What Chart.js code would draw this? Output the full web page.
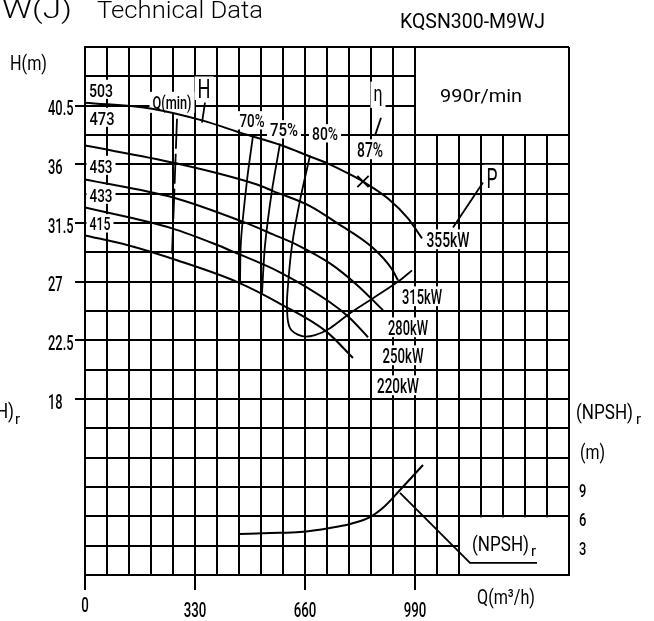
<!DOCTYPE html>
<html><head><meta charset="utf-8">
<script src="https://cdn.jsdelivr.net/npm/chart.js@4.4.1/dist/chart.umd.min.js"></script>
<style>html,body{margin:0;padding:0;background:#fff}#wrap{width:654px;height:621px;position:relative}</style>
</head><body><div id="wrap"><canvas id="c"></canvas></div>
<script>
const FAM = "Roboto,'Liberation Sans','DejaVu Sans',sans-serif";

// axis tick labels
const flowTicks = [0, 330, 660, 990];
const headTicks = [18, 22.5, 27, 31.5, 36, 40.5];
const npshTicks = [3, 6, 9];

// H-Q curves per impeller diameter
const flow503 = [0, 201, 354, 465, 591, 675, 729, 801, 834, 909, 969, 1011];
const head503 = [40.73, 40.27, 39.35, 38.43, 37.44, 36.6, 36.06, 35.15, 34.68, 33.38, 31.85, 30.32];
const flow473 = [0, 270, 516, 564, 675, 759, 861, 921, 939];
const head473 = [37.44, 36.1, 34.45, 33.95, 32.8, 31.45, 29.65, 27.95, 27.1];
const flow453 = [0, 264, 471, 564, 639, 735, 816, 894];
const head453 = [34.84, 33.46, 31.62, 30.63, 29.79, 28.4, 26.75, 24.81];
const flow433 = [0, 261, 399, 435, 585, 735, 795, 849];
const head433 = [32.69, 31.09, 29.79, 29.4, 27.72, 25.42, 24.2, 22.74];
const flow415 = [0, 129, 276, 459, 594, 726, 804];
const head415 = [30.55, 29.79, 28.64, 26.95, 25.19, 23.13, 21.14];

// iso-efficiency lines
const eff70Q = [504, 486, 468, 465];
const eff70H = [38.2, 34.76, 30.17, 26.95];
const eff75Q = [585, 561, 540, 531];
const eff75H = [37.59, 34.0, 29.79, 26.1];
const eff80Q = [675, 645, 621, 609, 606, 615, 651, 690, 735, 795, 864, 945, 981];
const eff80H = [36.67, 33.23, 29.79, 26.72, 25.04, 23.43, 22.82, 22.9, 23.43, 24.58, 25.73, 27.11, 27.87];

// minimum flow line, best efficiency point
const qMinQ = [276, 261];
const qMinH = [39.5, 29.02];
const bepQ = [834];
const bepH = [34.68];

// NPSHr curve
const npshQ = [462, 555, 645, 735, 795, 855, 900, 945, 981, 1014];
const npshV = [4.19, 4.30, 4.40, 4.81, 5.22, 5.93, 7.06, 8.69, 10.02, 11.25];

const pts = (xs, ys) => xs.map((v, i) => ({x: v, y: ys[i]}));
const near = (arr, v) => arr.some(a => Math.abs(a - v) < 1e-6);

function curve(xs, ys, extra) {
  return Object.assign({data: pts(xs, ys), showLine: true, borderColor: '#000', borderWidth: 2,
    pointRadius: 0, fill: false, cubicInterpolationMode: 'monotone'}, extra || {});
}

function measure(ctx, t) {
  ctx.font = (t.wt || '500') + ' ' + t.size + 'px ' + FAM;
  const m = ctx.measureText(t.s).width;
  const sx = t.w ? t.w / m : (t.sx || 1);
  const tw = m * sx;
  const left = t.al === 'left' ? t.x : (t.al === 'right' ? t.x - tw : t.x - tw / 2);
  return {sx, tw, left};
}
function drawBg(ctx, t) {
  ctx.save();
  const {tw, left} = measure(ctx, t);
  ctx.fillStyle = '#fff';
  const cap = t.size * 0.74;
  ctx.fillRect(left - 3, t.yb - cap - 3, tw + 6, cap + 5 + (t.d || 0));
  ctx.restore();
}
function drawTxt(ctx, t) {
  ctx.save();
  const {sx, left} = measure(ctx, t);
  ctx.translate(left, t.yb);
  ctx.scale(sx, 1);
  ctx.textAlign = 'left';
  ctx.textBaseline = 'alphabetic';
  ctx.fillStyle = '#000';
  ctx.fillText(t.s, 0, 0);
  ctx.restore();
}
const L = (s, cx, cy, size, w, bg, d, wt) => ({s, x: cx, yb: cy + size * 0.36, size, w, al: 'center', bg, d, wt});
const T = (s, x, yb, size, w, al, sx, wt) => ({s, x, yb, size, w, al, sx, wt: wt || '400'});

const labels = [
  T('W(J)', 72, 18, 25, 70, 'right', null, '300'),
  T('Technical Data', 97, 18, 24, 166, 'left', null, '300'),
  T('KQSN300-M9WJ', 400, 28, 20, 145, 'left'),
  T('H(m)', 10, 70, 21, 37, 'left'),
  L('503', 101, 90, 19, 24, true),
  L('473', 102, 118, 19, 25, true),
  L('453', 101, 166, 19, 23, true),
  L('433', 101, 195, 19, 23, true),
  L('415', 100, 224, 18, 21, true),
  L('Q(min)', 172, 102, 19, 39, true, 2),
  L('H', 204, 89, 25, 13, true, 0, '400'),
  L('70%', 252, 121, 18, 25, true),
  L('75%', 284, 130, 18, 28, true),
  L('80%', 325, 134, 18, 26, true),
  L('η', 378, 93, 22, 9, true, 5, '400'),
  L('87%', 370, 150, 20, 26, true),
  L('990r/min', 481, 95, 19, 82, false, 0, '400'),
  L('P', 492, 178, 27, 11, true, 0, '400'),
  L('355kW', 448, 240, 20, 43, true),
  L('315kW', 422, 297, 20, 40, true),
  L('280kW', 408, 328, 20, 40, true),
  L('250kW', 403, 356, 20, 41, true),
  L('220kW', 398, 386, 20, 42, true),
  T('(NPSH)', 472, 551, 21, 57, 'left'),
  T('r', 531, 556, 15, null, 'left', 1),
  T('(NPSH)', 576, 419, 21, 57, 'left'),
  T('r', 636, 424, 15, null, 'left', 1),
  T('(NPSH)', 14, 418, 21, 57, 'right'),
  T('r', 15, 424, 15, null, 'left', 1),
  T('(m)', 580, 459, 21, 25, 'left'),
  T('Q(m³/h)', 477, 604, 21, 58, 'left')
];

const annot = {
  id: 'annot',
  beforeDatasetsDraw(chart) {
    const {ctx, scales: {x, y, y2}, chartArea: a} = chart;
    ctx.save();
    ctx.fillStyle = '#fff';
    const bx = x.getPixelForValue(990), by = y.getPixelForValue(38.25);
    ctx.fillRect(bx + 1, a.top + 1, a.right - bx - 2, by - a.top - 2);
    const nx = x.getPixelForValue(1122), ny = y2.getPixelForValue(6);
    ctx.fillRect(nx + 1, ny + 1, a.right - nx - 2, a.bottom - ny - 2);
    ctx.restore();
    labels.filter(t => t.bg).forEach(t => drawBg(ctx, t));
  },
  afterDatasetsDraw(chart) {
    const {ctx, scales: {x, y, y2}} = chart;
    const line = (sc, p) => {
      ctx.save();
      ctx.strokeStyle = '#000'; ctx.lineWidth = 1.8;
      ctx.beginPath();
      p.forEach((q, i) => {
        const px = x.getPixelForValue(q[0]), py = sc.getPixelForValue(q[1]);
        i ? ctx.lineTo(px, py) : ctx.moveTo(px, py);
      });
      ctx.stroke();
      ctx.restore();
    };
    line(y, [[360, 40.73], [351, 39.2]]);
    line(y, [[888, 39.58], [870, 38.2]]);
    line(y, [[1194, 34.61], [1104, 31.16]]);
    line(y2, [[945, 8.39], [1155, 1.23], [1356, 1.23]]);

    labels.forEach(t => drawTxt(ctx, t));

    // axis tick labels, placed through the scales
    headTicks.forEach(v => drawTxt(ctx, {s: String(v), x: 48, yb: y.getPixelForValue(v) + 2.5 + 7, size: 19.5, sx: 0.66, al: 'left'}));
    flowTicks.forEach(v => drawTxt(ctx, {s: String(v), x: x.getPixelForValue(v), yb: (v === 0 ? 605 : 610) + 7, size: 19.5, sx: 0.68, al: 'center'}));
    npshTicks.forEach(v => drawTxt(ctx, {s: String(v), x: 579, yb: y2.getPixelForValue(v) + 3 + 6.8, size: 19, sx: 0.68, al: 'left'}));
  }
};

const datasets = [
  curve(flow503, head503),
  curve(flow473, head473),
  curve(flow453, head453),
  curve(flow433, head433),
  curve(flow415, head415),
  curve(eff70Q, eff70H, {cubicInterpolationMode: 'default', tension: 0.3, borderWidth: 1.8}),
  curve(eff75Q, eff75H, {cubicInterpolationMode: 'default', tension: 0.3, borderWidth: 1.8}),
  curve(eff80Q, eff80H, {cubicInterpolationMode: 'default', tension: 0.35, borderWidth: 1.8}),
  curve(qMinQ, qMinH, {cubicInterpolationMode: 'default', borderDash: [30, 5], borderWidth: 1.8}),
  {data: pts(bepQ, bepH), showLine: false, pointStyle: 'crossRot', pointRadius: 8,
   borderColor: '#000', backgroundColor: '#000', borderWidth: 1.8},
  curve(npshQ, npshV, {yAxisID: 'y2'})
];

new Chart(document.getElementById('c'), {
  type: 'scatter',
  data: {datasets},
  options: {
    responsive: true, maintainAspectRatio: false, animation: false,
    layout: {padding: {left: 48, top: 47, right: 0, bottom: 0}},
    plugins: {legend: {display: false}, tooltip: {enabled: false}, title: {display: false}},
    scales: {
      x: {
        type: 'linear', min: 0, max: 1452,
        afterFit(s) { s.height = 46; },
        ticks: {stepSize: 66, autoSkip: false, maxRotation: 0, display: false},
        grid: {color: '#000', lineWidth: 2, tickLength: 15,
          tickColor: c => near(flowTicks, c.tick.value) ? '#000' : 'rgba(0,0,0,0)'},
        border: {color: '#000', width: 2}
      },
      y: {
        type: 'linear', position: 'left', min: 4.5, max: 45,
        afterFit(s) { s.width = 37; },
        ticks: {stepSize: 2.25, autoSkip: false, display: false},
        grid: {color: '#000', lineWidth: 2, tickLength: 10,
          tickColor: c => near(headTicks, c.tick.value) ? '#000' : 'rgba(0,0,0,0)'},
        border: {color: '#000', width: 2}
      },
      y2: {
        type: 'linear', position: 'right', min: 0, max: 54,
        afterFit(s) { s.width = 85; },
        ticks: {stepSize: 3, autoSkip: false, display: false},
        grid: {display: false},
        border: {display: false}
      }
    }
  },
  plugins: [annot]
});
</script>
</body></html>
